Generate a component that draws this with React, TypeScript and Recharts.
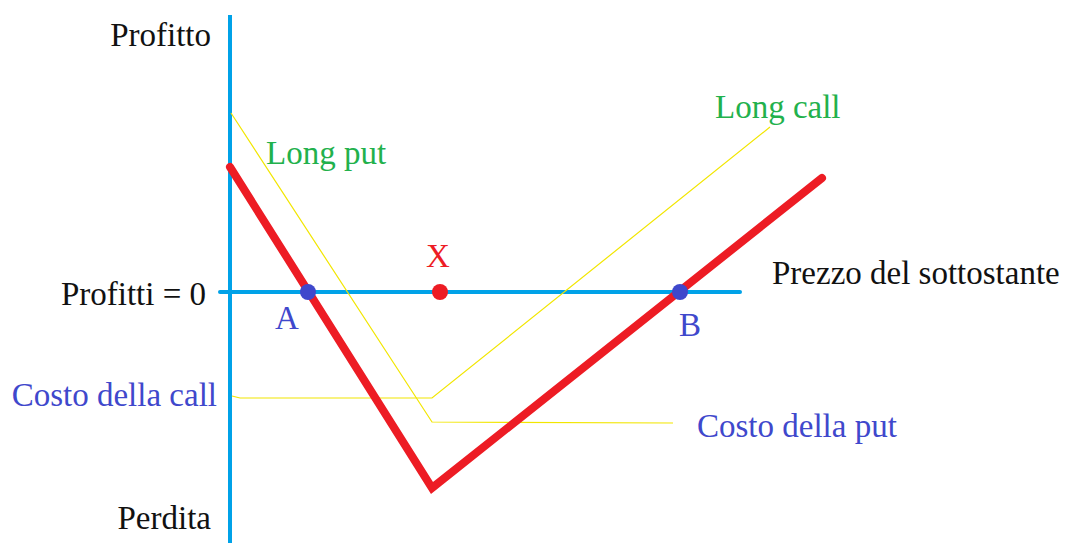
import React from 'react';
import { ComposedChart, Line, Scatter, XAxis, YAxis } from 'recharts';

// price (x) vs profit (y), sketch units
const profitAxis = [{ x: 0, y: -51 }, { x: 0, y: 55.4 }];
const zeroAxis = [{ x: -2, y: 0 }, { x: 102, y: 0 }];
const straddle = [{ x: 0, y: 25 }, { x: 40.4, y: -39.2 }, { x: 118.4, y: 22.8 }];
const longPut = [{ x: 0.2, y: 35.8 }, { x: 40.4, y: -26 }, { x: 88.6, y: -26.2 }];
const longCall = [{ x: 0.4, y: -20.8 }, { x: 2, y: -21.2 }, { x: 40.4, y: -21.2 }, { x: 108, y: 33 }];
const breakEven = [{ x: 15.6, y: 0 }, { x: 90, y: 0 }];
const strike = [{ x: 42, y: 0 }];

const labels = [
  { x: -3.8, y: 51.4, text: 'Profitto', color: '#111111', anchor: 'end' },
  { x: -4.8, y: -0.4, text: 'Profitti = 0', color: '#111111', anchor: 'end' },
  { x: -2.6, y: -20.6, text: 'Costo della call', color: '#3f48cc', anchor: 'end' },
  { x: -3.8, y: -45.2, text: 'Perdita', color: '#111111', anchor: 'end' },
  { x: 7.2, y: 27.8, text: 'Long put', color: '#22b14c', anchor: 'start' },
  { x: 97, y: 37, text: 'Long call', color: '#22b14c', anchor: 'start' },
  { x: 41.6, y: 7.2, text: 'X', color: '#ed1c24', anchor: 'middle' },
  { x: 11.4, y: -5.2, text: 'A', color: '#3f48cc', anchor: 'middle' },
  { x: 92, y: -6.6, text: 'B', color: '#3f48cc', anchor: 'middle' },
  { x: 108.4, y: 3.8, text: 'Prezzo del sottostante', color: '#111111', anchor: 'start' },
  { x: 93.4, y: -26.8, text: 'Costo della put', color: '#3f48cc', anchor: 'start' },
];

const dotShape = (color: string) => (p: any) => (
  <circle cx={p.cx} cy={p.cy} r={8} fill={color} />
);

const textShape = (p: any) => (
  <text
    x={p.cx}
    y={p.cy}
    fill={p.payload.color}
    textAnchor={p.payload.anchor}
    dominantBaseline="central"
    style={{ fontFamily: '"Liberation Serif", "Times New Roman", serif', fontSize: 33 }}
  >
    {p.payload.text}
  </text>
);

const App: React.FC = () => {
  return (
    <div style={{ position: 'absolute', left: 0, top: 0, background: '#fff' }}>
      <ComposedChart
        width={1067}
        height={547}
        margin={{ top: 12, right: 237, bottom: 0, left: 200 }}
      >
        <XAxis type="number" dataKey="x" domain={[-6, 120]} hide />
        <YAxis type="number" dataKey="y" domain={[-51, 56]} hide />
        <Line data={profitAxis} dataKey="y" stroke="#00a2e8" strokeWidth={4} dot={false} activeDot={false} isAnimationActive={false} />
        <Line data={zeroAxis} dataKey="y" stroke="#00a2e8" strokeWidth={4} strokeLinecap="round" dot={false} activeDot={false} isAnimationActive={false} />
        <Line data={longPut} dataKey="y" stroke="#f2e600" strokeWidth={1.2} dot={false} activeDot={false} isAnimationActive={false} />
        <Line data={longCall} dataKey="y" stroke="#f2e600" strokeWidth={1.2} dot={false} activeDot={false} isAnimationActive={false} />
        <Line data={straddle} dataKey="y" stroke="#ed1c24" strokeWidth={8} strokeLinecap="round" strokeLinejoin="miter" dot={false} activeDot={false} isAnimationActive={false} />
        <Scatter data={breakEven} dataKey="y" shape={dotShape('#3f48cc')} isAnimationActive={false} />
        <Scatter data={strike} dataKey="y" shape={dotShape('#ed1c24')} isAnimationActive={false} />
        <Scatter data={labels} dataKey="y" shape={textShape} isAnimationActive={false} />
      </ComposedChart>
    </div>
  );
};

export default App;
